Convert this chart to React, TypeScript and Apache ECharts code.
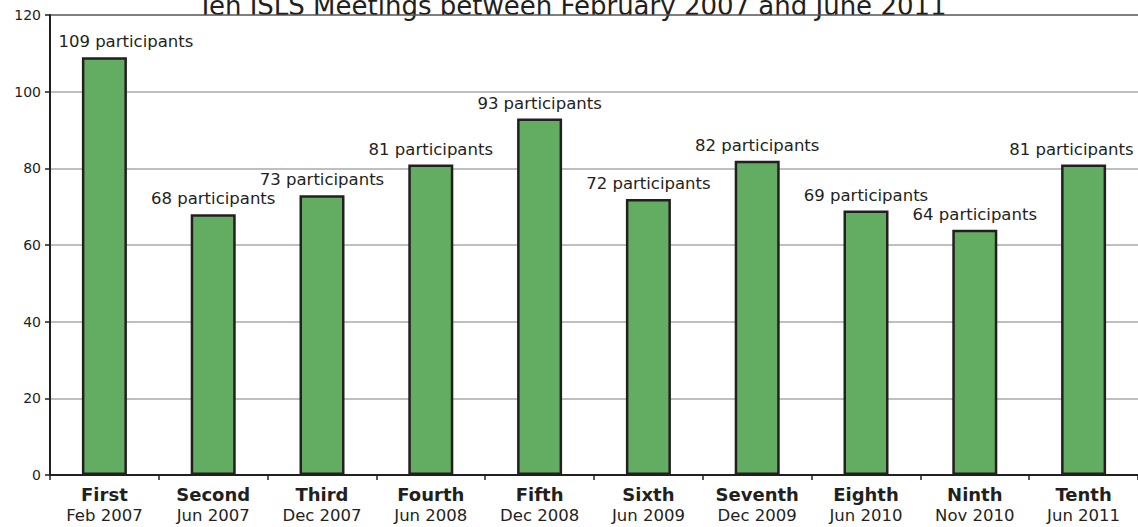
import React, { useEffect, useRef } from "react";
import * as echarts from "echarts";

const ordinals = ["First", "Second", "Third", "Fourth", "Fifth", "Sixth", "Seventh", "Eighth", "Ninth", "Tenth"];
const dates = ["Feb 2007", "Jun 2007", "Dec 2007", "Jun 2008", "Dec 2008", "Jun 2009", "Dec 2009", "Jun 2010", "Nov 2010", "Jun 2011"];
const participants = [109, 68, 73, 81, 93, 72, 82, 69, 64, 81];
const titleText = "Ten ISLS Meetings between February 2007 and June 2011";

const FONT = "DejaVu Sans";
const INK = "#231f20";

export default function App() {
  const ref = useRef<HTMLDivElement>(null);
  useEffect(() => {
    if (!ref.current) return;
    const chart = echarts.init(ref.current, null, { renderer: "svg" });
    const categories = ordinals.map((o, i) => `{a|${o}}\n{b|${dates[i]}}`);
    const last = participants.length - 1;
    chart.setOption({
      animation: false,
      backgroundColor: "#ffffff",
      textStyle: { fontFamily: FONT },
      graphic: [
        {
          type: "text",
          x: 572,
          y: 19,
          style: {
            text: titleText,
            fontFamily: FONT,
            fontSize: 26,
            fill: INK,
            textAlign: "center",
            textVerticalAlign: "bottom",
          },
        },
      ],
      grid: { left: 50, right: -5, top: 15, bottom: 52, containLabel: false },
      xAxis: {
        type: "category",
        data: categories,
        axisLine: { show: true, lineStyle: { color: INK, width: 2 } },
        axisTick: { show: true, alignWithLabel: false, length: 5, lineStyle: { color: INK, width: 1.5 } },
        axisLabel: {
          margin: 9,
          interval: 0,
          rich: {
            a: { fontFamily: FONT, fontSize: 18, fontWeight: "bold", color: INK, lineHeight: 21, align: "center" },
            b: { fontFamily: FONT, fontSize: 16.5, color: INK, lineHeight: 20, align: "center" },
          },
        },
        splitLine: { show: false },
      },
      yAxis: {
        type: "value",
        min: 0,
        max: 120,
        interval: 20,
        axisLine: { show: true, lineStyle: { color: INK, width: 2 } },
        axisTick: { show: true, length: 5, lineStyle: { color: INK, width: 1.5 } },
        axisLabel: { fontFamily: FONT, fontSize: 14, color: INK, margin: 9 },
        splitLine: {
          show: true,
          lineStyle: { color: ["#aaaaaa", "#aaaaaa", "#aaaaaa", "#aaaaaa", "#aaaaaa", "#aaaaaa", "#555555"], width: 1.5 },
        },
      },
      series: [
        {
          type: "bar",
          data: participants.map((v, i) =>
            i === last
              ? { value: v, label: { align: "right", offset: [50, 0] } }
              : i === 0
              ? { value: v, label: { align: "left", offset: [-46, 0] } }
              : v
          ),
          barWidth: 45,
          itemStyle: { color: "#62ad62", borderColor: INK, borderWidth: 2.5 },
          label: {
            show: true,
            position: "top",
            distance: 7,
            fontFamily: FONT,
            fontSize: 16.5,
            color: INK,
            formatter: (p: any) => `${p.value} participants`,
          },
        },
      ],
    });
    return () => chart.dispose();
  }, []);
  return (
    <div
      ref={ref}
      style={{ position: "fixed", left: 0, top: 0, width: 1138, height: 527, background: "#fff" }}
    />
  );
}
